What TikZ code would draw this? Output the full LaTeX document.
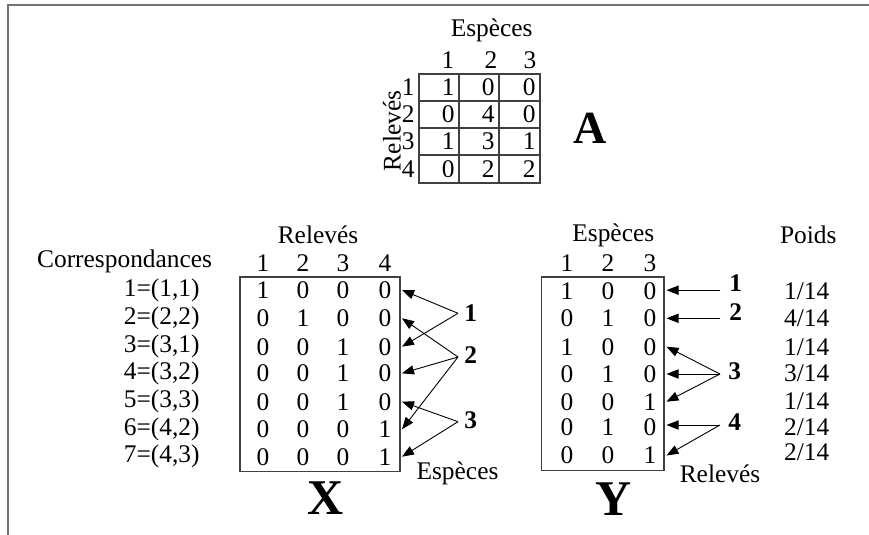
\documentclass[tikz,border=0pt]{standalone}
\usepackage{fontspec}
\setmainfont{Liberation Serif}
\usetikzlibrary{arrows.meta}
\begin{document}
\begin{tikzpicture}[x=0.5pt,y=-0.5pt,
  every node/.style={font=\fontsize{12.7}{15}\selectfont, inner sep=0pt},
  big/.style={font=\fontsize{25}{30}\selectfont\bfseries},
  bigA/.style={font=\fontsize{23}{28}\selectfont\bfseries},
  lbl/.style={font=\fontsize{12.7}{15}\selectfont\bfseries},
  box/.style={draw=black!75, line width=0.6pt},
  arr/.style={-{Triangle[length=6pt,width=4.6pt]}, line width=0.45pt},
  frame/.style={draw=black!55, line width=1pt}]
\useasboundingbox (0,0) rectangle (869,535);
\draw[frame] (8,535) -- (8,5) -- (869,5);

% ---------------- Matrix A ----------------
\node (Aesp) at (491.7,30.5) {Espèces};
\foreach \c/\x in {1/448,2/491,3/530} \node (Ah\c) at (\x,60) {\c};
\draw[box] (419,74) rectangle (540,183);
\draw[box] (459,74) -- (459,183) (499,74) -- (499,183);
\draw[box] (419,101) -- (540,101) (419,128) -- (540,128) (419,155) -- (540,155);
\node[rotate=90] (Arel) at (392,131) {Relevés};
\foreach \r/\y/\a/\b/\c in {1/87.5/1/0/0, 2/114.5/0/4/0, 3/141.5/1/3/1, 4/169/0/2/2}{
  \node[anchor=east] (Ar\r) at (415,\y) {\r};
  \node[anchor=east] (A\r a) at (455,\y) {\a};
  \node[anchor=east] (A\r b) at (495,\y) {\b};
  \node[anchor=east] (A\r c) at (536,\y) {\c};
}
\node[bigA] (Aname) at (590,128) {A};

% ---------------- Matrix X ----------------
\node (Xrel) at (318,235) {Relevés};
\node (Xcorr) at (124.6,261.7) {Correspondances};
\foreach \c/\x in {1/263,2/303,3/343,4/385} \node (Xh\c) at (\x,263) {\c};
\draw[box] (240,277) rectangle (400,471.5);
\foreach \r/\y/\lab/\a/\b/\c/\d in {
  1/290/{1=(1,1)}/1/0/0/0,
  2/318.3/{2=(2,2)}/0/1/0/0,
  3/346.7/{3=(3,1)}/0/0/1/0,
  4/373.3/{4=(3,2)}/0/0/1/0,
  5/401.7/{5=(3,3)}/0/0/1/0,
  6/429.3/{6=(4,2)}/0/0/0/1,
  7/456.7/{7=(4,3)}/0/0/0/1}{
  \node[anchor=east] (Xl\r) at (200,\y) {\lab};
  \node (X\r a) at (263,\y) {\a};
  \node (X\r b) at (303,\y) {\b};
  \node (X\r c) at (343,\y) {\c};
  \node (X\r d) at (385,\y) {\d};
  \coordinate (Xt\r) at (402,\y);
}
\coordinate (xs1) at (458,313.3);
\coordinate (xs2) at (458,357);
\coordinate (xs3) at (458,421.7);
\node[lbl, anchor=west] (xl1) at (464,313.3) {1};
\node[lbl, anchor=west] (xl2) at (464,355) {2};
\node[lbl, anchor=west] (xl3) at (464,420) {3};
\draw[arr] (xs1) -- (Xt1);
\draw[arr] (xs1) -- (Xt3);
\draw[arr] (xs2) -- (Xt2);
\draw[arr] (xs2) -- (Xt4);
\draw[arr] (xs2) -- (Xt6);
\draw[arr] (xs3) -- (Xt5);
\draw[arr] (xs3) -- (Xt7);
\node (Xesp) at (457.5,473.3) {Espèces};
\node[big] (Xname) at (326,498) {X};

% ---------------- Matrix Y ----------------
\node (Yesp) at (613.3,235) {Espèces};
\node (Ypoids) at (808.3,235) {Poids};
\foreach \c/\x in {1/567,2/608,3/650} \node (Yh\c) at (\x,263) {\c};
\draw[box] (541.7,277) rectangle (664,470.7);
\foreach \r/\y/\a/\b/\c/\py/\w in {
  1/290.7/1/0/0/291.7/{1/14},
  2/318.3/0/1/0/318.3/{4/14},
  3/346.7/1/0/0/347.3/{1/14},
  4/374/0/1/0/373.3/{3/14},
  5/401.7/0/0/1/401.7/{1/14},
  6/427.5/0/1/0/427/{2/14},
  7/455.5/0/0/1/452/{2/14}}{
  \node (Y\r a) at (567,\y) {\a};
  \node (Y\r b) at (608,\y) {\b};
  \node (Y\r c) at (650,\y) {\c};
  \node (P\r) at (806.7,\py) {\w};
  \coordinate (Yt\r) at (666.5,\y);
}
\coordinate (ys1) at (720,290.2);
\coordinate (ys2) at (720,318.3);
\coordinate (ys3) at (720,374);
\coordinate (ys4) at (720,425);
\node[lbl, anchor=west] (yl1) at (729,283) {1};
\node[lbl, anchor=west] (yl2) at (729,311.7) {2};
\node[lbl, anchor=west] (yl3) at (728,371.7) {3};
\node[lbl, anchor=west] (yl4) at (728,421.7) {4};
\draw[arr] (ys1) -- (Yt1 |- ys1);
\draw[arr] (ys2) -- (Yt2);
\draw[arr] (ys3) -- (Yt3);
\draw[arr] (ys3) -- (Yt4);
\draw[arr] (ys3) -- (Yt5);
\draw[arr] (ys4) -- (Yt6 |- ys4);
\draw[arr] (ys4) -- (Yt7);
\node (Yrel) at (720,473.3) {Relevés};
\node[big] (Yname) at (613.3,499) {Y};
\end{tikzpicture}
\end{document}
